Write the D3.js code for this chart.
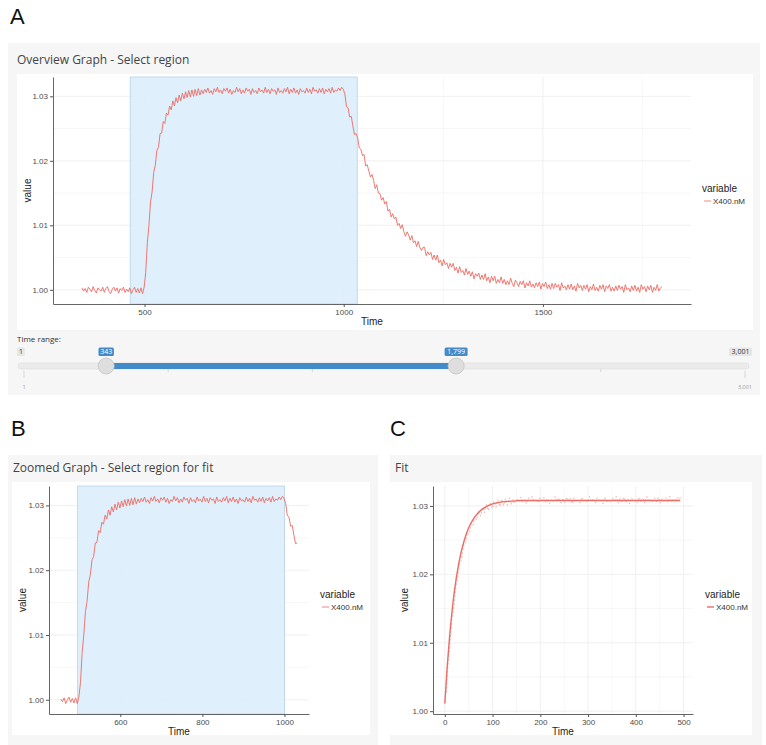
<!DOCTYPE html>
<html>
<head>
<meta charset="utf-8">
<script src="https://cdn.jsdelivr.net/npm/d3@7"></script>
<style>
  body { margin: 0; background: #ffffff; }
  svg { display: block; }
  .gg text { font-family: "Liberation Sans", Arial, sans-serif; }
  .ui text { font-family: "Open Sans", sans-serif; }
</style>
</head>
<body>
<script>
// ---------------- DATA ----------------
const seriesName = "X400.nM";
const timeStart = 343;
const timeStep = 4;
const values = [
  // baseline 343..499
  1.0003,0.9998,1.0002,0.9996,1.0004,1.0001,0.9997,1.0005,0.9999,0.9995,
  1.0003,1.0000,0.9998,1.0004,0.9996,1.0002,1.0005,0.9997,0.9994,1.0001,
  1.0004,0.9998,1.0003,0.9995,1.0002,0.9999,1.0004,0.9996,1.0001,0.9997,
  1.0003,0.9994,1.0000,1.0004,0.9996,1.0002,0.9995,1.0003,0.9994,1.0004,
  // association 503..639
  1.0027,1.0073,1.0100,1.0136,1.0152,1.0182,1.0193,1.0216,1.0221,1.0242,
  1.0243,1.0261,1.0258,1.0274,1.0271,1.0285,1.0279,1.0293,1.0285,1.0298,
  1.0290,1.0302,1.0293,1.0305,1.0296,1.0307,1.0298,1.0309,1.0299,1.0310,
  1.0300,1.0311,1.0301,1.0312,1.0302,
  // plateau 643..999
  1.0310,1.0304,1.0311,1.0306,1.0313,1.0305,1.0309,1.0303,1.0312,1.0307,
  1.0314,1.0306,1.0310,1.0304,1.0312,1.0308,1.0313,1.0305,1.0311,1.0303,
  1.0309,1.0306,1.0314,1.0307,1.0312,1.0304,1.0310,1.0305,1.0313,1.0308,
  1.0311,1.0303,1.0312,1.0306,1.0309,1.0304,1.0313,1.0307,1.0310,1.0305,
  1.0314,1.0306,1.0311,1.0304,1.0312,1.0308,1.0310,1.0303,1.0313,1.0306,
  1.0309,1.0305,1.0312,1.0307,1.0314,1.0304,1.0311,1.0306,1.0313,1.0305,
  1.0310,1.0303,1.0312,1.0307,1.0309,1.0305,1.0313,1.0306,1.0311,1.0304,
  1.0314,1.0308,1.0310,1.0305,1.0312,1.0306,1.0313,1.0304,1.0311,1.0307,
  1.0312,1.0305,1.0314,1.0306,1.0310,1.0308,1.0313,1.0309,1.0314,1.0311,
  // dissociation 1003..1799
  1.0303,1.0284,1.0282,1.0268,1.0269,1.0254,1.0241,1.0242,1.0236,1.0220,
  1.0218,1.0208,1.0210,1.0192,1.0194,1.0184,1.0175,1.0179,1.0170,1.0157,
  1.0163,1.0150,1.0149,1.0139,1.0143,1.0133,1.0137,1.0122,1.0125,1.0113,
  1.0118,1.0110,1.0113,1.0100,1.0103,1.0095,1.0101,1.0090,1.0083,1.0090,
  1.0085,1.0077,1.0084,1.0073,1.0076,1.0067,1.0075,1.0066,1.0061,1.0066,
  1.0066,1.0053,1.0059,1.0054,1.0058,1.0047,1.0054,1.0046,1.0054,1.0042,
  1.0046,1.0037,1.0047,1.0039,1.0042,1.0033,1.0041,1.0035,1.0041,1.0030,
  1.0035,1.0026,1.0036,1.0027,1.0030,1.0023,1.0033,1.0024,1.0029,1.0021,
  1.0028,1.0017,1.0025,1.0021,1.0026,1.0016,1.0023,1.0016,1.0025,1.0014,
  1.0020,1.0011,1.0021,1.0014,1.0021,1.0010,1.0016,1.0011,1.0020,1.0010,
  1.0016,1.0008,1.0014,1.0008,1.0018,1.0010,1.0005,1.0015,1.0011,1.0005,
  1.0013,1.0008,1.0014,1.0003,1.0011,1.0006,1.0014,1.0004,1.0009,1.0003,
  1.0011,1.0005,1.0012,1.0001,1.0010,1.0005,1.0012,1.0002,1.0008,1.0001,
  1.0010,1.0002,1.0010,1.0004,1.0008,0.9999,1.0011,1.0003,1.0006,1.0000,
  1.0008,1.0001,1.0009,1.0000,1.0006,0.9998,1.0010,1.0003,1.0007,0.9999,
  1.0007,1.0001,1.0008,0.9997,1.0005,1.0000,1.0009,0.9999,1.0004,0.9998,
  1.0007,1.0001,1.0008,0.9997,1.0006,1.0002,1.0008,0.9998,1.0004,0.9998,
  1.0006,0.9999,1.0007,1.0001,1.0005,0.9996,1.0008,1.0000,1.0003,0.9997,
  1.0006,0.9999,1.0007,0.9998,1.0004,0.9996,1.0008,1.0001,1.0005,0.9997,
  1.0006,1.0000,1.0007,0.9996,1.0004,0.9999,1.0008,0.9998,1.0003,1.0005
];
const overviewSelection = [464, 1034];
const zoomWindow = [455, 1031];
const fitSelection = [496, 1000];
const fitWindow = [500, 995];
const fitOffset = 500;
const fitTime  = [0, 5, 10, 15, 20, 30, 40, 50, 60, 70, 80, 90, 100, 120, 140, 160, 200, 300, 400, 493];
const fitValue = [1.0011,1.0065,1.0109,1.0145,1.0175,1.0219,1.0248,1.0268,1.0281,1.0290,1.0296,1.0300,1.0303,1.0306,1.0307,1.0308,1.0308,1.0308,1.0308,1.0308];

const yTicks = [1.00, 1.01, 1.02, 1.03];
const yMinor = [1.005, 1.015, 1.025];
const xTicksA = [500, 1000, 1500];
const xMinorA = [750, 1250, 1750];
const xTicksB = [600, 800, 1000];
const xMinorB = [500, 700, 900];
const xTicksC = [0, 100, 200, 300, 400, 500];
const xMinorC = [50, 150, 250, 350, 450];

const sliderMin = 1, sliderMax = 3001, sliderFrom = 343, sliderTo = 1799;
const sliderGrid = [1, 601, 1201, 1801, 2401, 3001];

const titles = ["Overview Graph - Select region", "Zoomed Graph - Select region for fit", "Fit"];
const panelLetters = ["A", "B", "C"];

// ---------------- HELPERS ----------------
const data = values.map((v, i) => ({ t: timeStart + i * timeStep, v }));
const lineColor = "#ec6b63";
const fmtComma = d3.format(",");

function expand(ext) {
  const pad = (ext[1] - ext[0]) * 0.05;
  return [ext[0] - pad, ext[1] + pad];
}

const svg = d3.select("body").append("svg").attr("width", 766).attr("height", 745);

// panel backgrounds
function panel(x, y, w, h, wx, wy, ww, wh) {
  svg.append("rect").attr("x", x).attr("y", y).attr("width", w).attr("height", h).attr("fill", "#f6f6f6");
  svg.append("rect").attr("x", wx).attr("y", wy).attr("width", ww).attr("height", wh).attr("fill", "#ffffff");
}
panel(8, 43, 752, 352, 17, 74, 736, 256);
panel(8, 455, 370, 290, 12, 482, 358, 253);
panel(390, 455, 372, 290, 390, 482, 362, 253);

// letters
const letterPos = [[10, 24], [11, 436], [390, 436]];
panelLetters.forEach((L, i) => {
  svg.append("text").attr("x", letterPos[i][0]).attr("y", letterPos[i][1])
    .attr("font-family", "Liberation Sans, Arial, sans-serif").attr("font-size", 22).attr("fill", "#111").text(L);
});
// titles
const titlePos = [[17, 64], [13, 472], [395, 472]];
titles.forEach((T, i) => {
  svg.append("text").attr("x", titlePos[i][0]).attr("y", titlePos[i][1])
    .attr("font-family", "Open Sans, sans-serif").attr("font-size", 12).attr("fill", "#444").text(T);
});

function drawPlot(cfg) {
  const g = svg.append("g").attr("class", "gg");
  const x = d3.scaleLinear().domain(cfg.xDomain).range(cfg.xRange);
  const y = d3.scaleLinear().domain(cfg.yDomain).range(cfg.yRange);
  const [x0, x1] = cfg.xRange, [y0, y1] = cfg.yRange;

  // grid
  const grid = g.append("g");
  cfg.xMinor.filter(d => d >= cfg.xDomain[0] && d <= cfg.xDomain[1]).forEach(d =>
    grid.append("line").attr("x1", x(d)).attr("x2", x(d)).attr("y1", y0).attr("y2", y1).attr("stroke", "#f2f2f2").attr("stroke-width", 0.6));
  yMinor.forEach(d =>
    grid.append("line").attr("x1", x0).attr("x2", x1).attr("y1", y(d)).attr("y2", y(d)).attr("stroke", "#f2f2f2").attr("stroke-width", 0.6));
  cfg.xTicks.forEach(d =>
    grid.append("line").attr("x1", x(d)).attr("x2", x(d)).attr("y1", y0).attr("y2", y1).attr("stroke", "#e9e9e9").attr("stroke-width", 0.7));
  yTicks.forEach(d =>
    grid.append("line").attr("x1", x0).attr("x2", x1).attr("y1", y(d)).attr("y2", y(d)).attr("stroke", "#e9e9e9").attr("stroke-width", 0.7));

  // selection
  if (cfg.selection) {
    g.append("rect").attr("x", x(cfg.selection[0])).attr("y", y1)
      .attr("width", x(cfg.selection[1]) - x(cfg.selection[0])).attr("height", y0 - y1)
      .attr("fill", "#dcedfb").attr("fill-opacity", 0.9).attr("stroke", "#b5d3ec").attr("stroke-width", 0.8);
  }

  const line = d3.line().x(d => x(d.t)).y(d => y(d.v));
  if (cfg.dashed) {
    g.append("path").datum(cfg.data).attr("d", line).attr("fill", "none")
      .attr("stroke", lineColor).attr("stroke-opacity", 0.6).attr("stroke-width", 0.8).attr("stroke-dasharray", "2,2");
  } else {
    g.append("path").datum(cfg.data).attr("d", line).attr("fill", "none")
      .attr("stroke", lineColor).attr("stroke-width", 0.9);
  }
  if (cfg.fit) {
    const fl = d3.line().x(d => x(d.t)).y(d => y(d.v)).curve(d3.curveMonotoneX);
    g.append("path").datum(cfg.fit).attr("d", fl).attr("fill", "none")
      .attr("stroke", lineColor).attr("stroke-width", 1.4);
  }

  // axes
  const ax = g.append("g").attr("transform", `translate(0,${y0})`)
    .call(d3.axisBottom(x).tickValues(cfg.xTicks).tickSize(3).tickSizeOuter(0).tickPadding(2).tickFormat(d3.format("d")));
  const ay = g.append("g").attr("transform", `translate(${x0},0)`)
    .call(d3.axisLeft(y).tickValues(yTicks).tickSize(3).tickSizeOuter(0).tickPadding(2).tickFormat(d3.format(".2f")));
  [ax, ay].forEach(a => {
    a.select(".domain").attr("stroke", "#555").attr("stroke-width", 0.9);
    a.selectAll(".tick line").attr("stroke", "#555");
    a.selectAll(".tick text").attr("font-size", 8).attr("fill", "#4d4d4d").attr("font-family", "Liberation Sans, Arial, sans-serif");
  });

  g.append("text").attr("x", (x0 + x1) / 2).attr("y", y0 + 21).attr("text-anchor", "middle")
    .attr("font-size", 10).attr("fill", "#222").text("Time");
  g.append("text").attr("transform", `translate(${cfg.yTitleX},${(y0 + y1) / 2}) rotate(-90)`)
    .attr("text-anchor", "middle").attr("font-size", 10).attr("fill", "#222").text("value");

  // legend
  const lg = g.append("g").attr("transform", `translate(${cfg.legend[0]},${cfg.legend[1]})`);
  lg.append("text").attr("x", 0).attr("y", 0).attr("font-size", 10).attr("fill", "#222").text("variable");
  lg.append("line").attr("x1", 2).attr("x2", 9).attr("y1", 9).attr("y2", 9)
    .attr("stroke", lineColor).attr("stroke-width", cfg.fit ? 1.4 : 0.8);
  lg.append("text").attr("x", 11).attr("y", 12).attr("font-size", 8).attr("fill", "#333").text(seriesName);
}

// Panel A
const yDomAll = expand(d3.extent(data, d => d.v));
drawPlot({
  data: data, xDomain: expand(d3.extent(data, d => d.t)), yDomain: yDomAll,
  xRange: [53, 691], yRange: [304, 77], xTicks: xTicksA, xMinor: xMinorA,
  selection: overviewSelection, yTitleX: 31, legend: [702, 192]
});

// Panel B
const dataB = data.filter(d => d.t >= zoomWindow[0] && d.t <= zoomWindow[1]);
drawPlot({
  data: dataB, xDomain: expand(d3.extent(dataB, d => d.t)), yDomain: expand(d3.extent(dataB, d => d.v)),
  xRange: [49, 309], yRange: [714, 486], xTicks: xTicksB, xMinor: xMinorB,
  selection: fitSelection, yTitleX: 26, legend: [320, 598]
});

// Panel C
const dataC = data.filter(d => d.t >= fitWindow[0] && d.t <= fitWindow[1]).map(d => ({ t: d.t - fitOffset, v: d.v }));
const fitData = fitTime.map((t, i) => ({ t, v: fitValue[i] }));
const allC = dataC.concat(fitData);
drawPlot({
  data: dataC, fit: fitData,
  xDomain: expand([0, d3.max(allC, d => d.t)]), yDomain: expand(d3.extent(allC, d => d.v)),
  xRange: [433, 693], yRange: [714, 486], xTicks: xTicksC, xMinor: xMinorC,
  dashed: true, yTitleX: 408, legend: [705, 598]
});

// ---------------- SLIDER ----------------
const ui = svg.append("g").attr("class", "ui");
const sx = d3.scaleLinear().domain([sliderMin, sliderMax]).range([24, 745]);
ui.append("text").attr("x", 17).attr("y", 342).attr("font-size", 8).attr("fill", "#333").text("Time range:");
ui.append("rect").attr("x", 18).attr("y", 363).attr("width", 731).attr("height", 6).attr("rx", 3)
  .attr("fill", "#ebebeb").attr("stroke", "#dcdcdc").attr("stroke-width", 0.6);
ui.append("rect").attr("x", sx(sliderFrom)).attr("y", 363).attr("width", sx(sliderTo) - sx(sliderFrom)).attr("height", 6)
  .attr("fill", "#428bca");
sliderGrid.forEach((v, i) => {
  const end = i === 0 || i === sliderGrid.length - 1;
  ui.append("line").attr("x1", sx(v)).attr("x2", sx(v)).attr("y1", end ? 371 : 369).attr("y2", end ? 378 : 372)
    .attr("stroke", "#c8c8c8").attr("stroke-width", 0.7);
});
[sliderMin, sliderMax].forEach(v => {
  ui.append("text").attr("x", sx(v)).attr("y", 389).attr("text-anchor", "middle")
    .attr("font-size", 5.5).attr("fill", "#999").text(fmtComma(v));
});
// min / max labels
function boxLabel(xc, anchor, txt, blue) {
  const w = txt.length * 3.8 + 4;
  let x0 = anchor === "start" ? xc : anchor === "end" ? xc - w : xc - w / 2;
  ui.append("rect").attr("x", x0).attr("y", 347.5).attr("width", w).attr("height", 8.5).attr("rx", 1.5)
    .attr("fill", blue ? "#428bca" : "#e6e6e6");
  ui.append("text").attr("x", x0 + w / 2).attr("y", 354.3).attr("text-anchor", "middle")
    .attr("font-size", 7).attr("fill", blue ? "#ffffff" : "#333").text(txt);
}
boxLabel(17, "start", fmtComma(sliderMin), false);
boxLabel(752, "end", fmtComma(sliderMax), false);
boxLabel(sx(sliderFrom), "middle", fmtComma(sliderFrom), true);
boxLabel(sx(sliderTo), "middle", fmtComma(sliderTo), true);
[sliderFrom, sliderTo].forEach(v => {
  ui.append("circle").attr("cx", sx(v)).attr("cy", 366).attr("r", 8)
    .attr("fill", "#dedede").attr("stroke", "#c4c4c4").attr("stroke-width", 0.8);
});
</script>
</body>
</html>
